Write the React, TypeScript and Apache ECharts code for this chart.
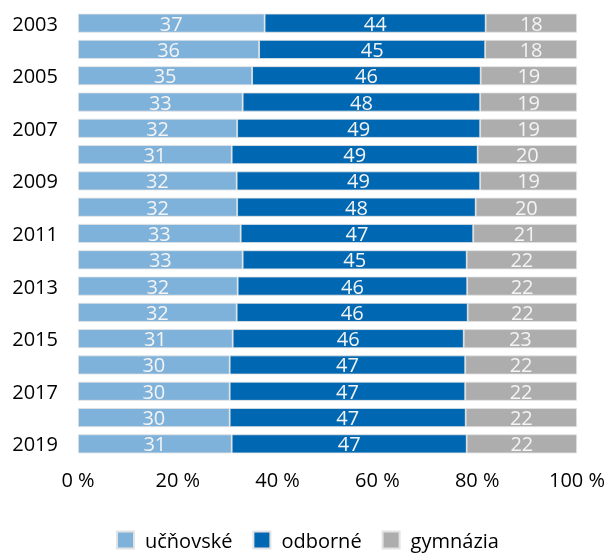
import React, { useEffect, useRef } from "react";
import * as echarts from "echarts";

const years = ["2003","2004","2005","2006","2007","2008","2009","2010","2011","2012","2013","2014","2015","2016","2017","2018","2019"];
const ucnovske = [37.4, 36.3, 34.9, 33.0, 31.9, 30.8, 31.8, 31.9, 32.6, 33.0, 32.0, 31.8, 31.0, 30.4, 30.4, 30.4, 30.8];
const odborne = [44.3, 45.3, 45.8, 47.6, 48.7, 49.3, 48.8, 47.8, 46.6, 44.9, 46.0, 46.3, 46.3, 47.2, 47.2, 47.3, 47.1];
const gymnazia = [18.3, 18.4, 19.3, 19.4, 19.4, 19.9, 19.4, 20.3, 20.8, 22.1, 22.0, 21.9, 22.7, 22.4, 22.4, 22.3, 22.1];
const seriesNames = ["učňovské", "odborné", "gymnázia"];
const xTicks = [0, 20, 40, 60, 80, 100];

const FONT = "'Open Sans', sans-serif";

export default function App() {
  const ref = useRef<HTMLDivElement>(null);
  useEffect(() => {
    if (!ref.current) return;
    const chart = echarts.init(ref.current, null, { renderer: "svg" });
    const colors = ["#7FB2DA", "#0068B2", "#ADADAD"];
    const data = [ucnovske, odborne, gymnazia];
    chart.setOption({
      animation: false,
      textStyle: { fontFamily: FONT },
      grid: { left: 78, right: 30, top: 10, height: 447, containLabel: false },
      xAxis: {
        type: "value",
        min: xTicks[0],
        max: xTicks[xTicks.length - 1],
        interval: 20,
        axisLine: { show: false },
        axisTick: { show: false },
        splitLine: { show: false },
        axisLabel: {
          formatter: (v: number) => `${v} %`,
          color: "#000",
          fontSize: 20,
          fontFamily: FONT,
          margin: 12,
        },
      },
      yAxis: {
        type: "category",
        data: years,
        inverse: true,
        axisLine: { show: false },
        axisTick: { show: false },
        axisLabel: {
          interval: 1,
          color: "#000",
          fontSize: 20,
          fontFamily: FONT,
          margin: 20,
        },
      },
      legend: {
        top: 530,
        left: 116,
        padding: 0,
        itemWidth: 17,
        itemHeight: 17,
        itemGap: 20,
        icon: "rect",
        textStyle: { fontSize: 20, lineHeight: 20, color: "#000", fontFamily: FONT, padding: [0, 0, 0, 6] },
        data: seriesNames,
      },
      series: seriesNames.map((name, i) => ({
        name,
        type: "bar",
        stack: "total",
        barWidth: 19,
        data: data[i],
        itemStyle: { color: colors[i], borderColor: "#e3e3e3", borderWidth: 0.8 },
        label: {
          show: true,
          position: "inside",
          color: "#F4F4F4",
          fontSize: 20,
          fontFamily: FONT,
          formatter: (p: any) => `${Math.round(p.value)}`,
        },
      })),
    });
    return () => chart.dispose();
  }, []);
  return <div ref={ref} style={{ position: "fixed", left: 0, top: 0, width: 608, height: 556 }} />;
}
